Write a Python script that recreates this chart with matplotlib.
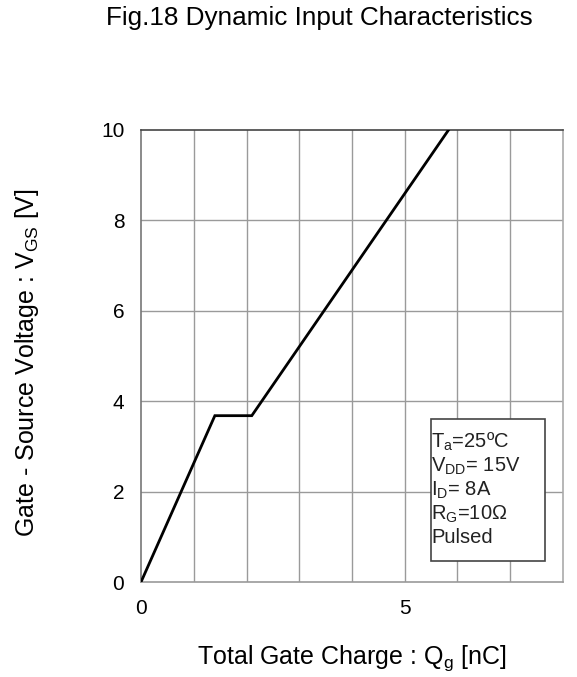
import matplotlib
matplotlib.use("Agg")
import matplotlib.pyplot as plt
from matplotlib.patches import Rectangle

plt.rcParams['font.family'] = ['Liberation Sans', 'DejaVu Sans']
plt.rcParams['mathtext.fontset'] = 'custom'
plt.rcParams['mathtext.rm'] = 'Liberation Sans'
plt.rcParams['mathtext.it'] = 'Liberation Sans'
plt.rcParams['mathtext.default'] = 'rm'

# curve
qg = [0.0, 1.40, 2.10, 5.83]
vgs = [0.0, 3.68, 3.68, 10.0]

x_ticks = [0, 5]
y_ticks = [0, 2, 4, 6, 8, 10]
x_grid = [1, 2, 3, 4, 5, 6, 7]
y_grid = [2, 4, 6, 8]

conditions = [r'T$_{a}$=25ºC', r'V$_{DD}$= 15V', r'I$_{D}$= 8A', r'R$_{G}$=10Ω', 'Pulsed']

fig = plt.figure(figsize=(5.77, 6.77), dpi=100)
ax = fig.add_axes([0.2444, 0.1403, 0.7313, 0.6677])

# grid
for gx in x_grid:
    ax.axvline(gx, color='#9a9a9a', linewidth=1.0, zorder=1)
for gy in y_grid:
    ax.axhline(gy, color='#9a9a9a', linewidth=1.0, zorder=1)

ax.plot(qg, vgs, color='black', linewidth=2.0, zorder=3, solid_joinstyle='miter')

ax.set_xlim(0, 8)
ax.set_ylim(0, 10)
ax.set_xticks(x_ticks)
ax.set_yticks(y_ticks)
ax.tick_params(length=0, labelsize=15, pad=12)

ax.spines['top'].set_color('#444444')
ax.spines['left'].set_color('#777777')
ax.spines['bottom'].set_color('#999999')
ax.spines['right'].set_color('#aaaaaa')
for s in ax.spines.values():
    s.set_linewidth(1.2)

ax.set_xlabel(r'Total Gate Charge : Q$_{g}$ [nC]', fontsize=18, labelpad=18.5)
ax.set_ylabel(r'Gate - Source Voltage : V$_{GS}$ [V]', fontsize=18)
ax.yaxis.set_label_coords(-0.236, 0.486)

# condition box
ax.add_patch(Rectangle((0.6865, 0.0465), 0.2705, 0.3141, transform=ax.transAxes,
                       facecolor='white', edgecolor='#444444', linewidth=1.2, zorder=4))
baselines = [0.2965, 0.2434, 0.1903, 0.1372, 0.0863]
for txt, yb in zip(conditions, baselines):
    ax.text(0.688, yb, txt, transform=ax.transAxes, fontsize=14.5,
            va='baseline', ha='left', color='#222222', zorder=5)

fig.text(0.553, 0.973, 'Fig.18 Dynamic Input Characteristics', fontsize=18.8,
         ha='center', va='center')

fig.savefig('out.png', dpi=100)
